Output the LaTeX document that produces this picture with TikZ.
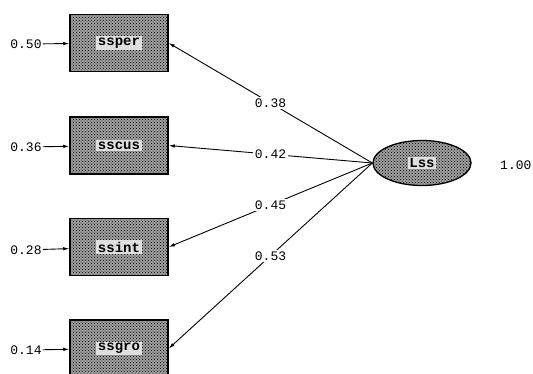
\documentclass[tikz,border=0pt]{standalone}
\usepackage{fontspec}
\setmonofont{Liberation Mono}
\usetikzlibrary{arrows.meta,patterns,shapes.geometric}
\begin{document}
\begin{tikzpicture}[x=1pt,y=-1pt,
  obs/.style={draw=black,line width=1.5pt,rectangle,minimum width=98pt,minimum height=57pt,inner sep=0pt,
     fill=gray!75,postaction={pattern=crosshatch dots,pattern color=black}},
  lat/.style={draw=black,line width=1.3pt,ellipse,minimum width=98pt,minimum height=45pt,inner sep=0pt,
     fill=gray!75,postaction={pattern=crosshatch dots,pattern color=black}},
  inlab/.style={font=\ttfamily\bfseries\fontsize{14}{14}\selectfont,fill=white!75!gray,inner sep=1.5pt},
  num/.style={font=\ttfamily\fontsize{13}{13}\selectfont,inner sep=1pt},
  coef/.style={font=\ttfamily\fontsize{13}{13}\selectfont,fill=white,inner sep=1.5pt},
  arr/.style={line width=0.9pt,-{Latex[length=6pt,width=3.5pt]}}]
\useasboundingbox (0,0) rectangle (533,373);
\begin{scope}
\clip (0,0) rectangle (533,373);
\node[obs] (b1) at (119,43) {};
\node[inlab] at (b1) {ssper};
\node[obs] (b2) at (119,145.5) {};
\node[inlab] at (b2) {sscus};
\node[obs] (b3) at (119,247) {};
\node[inlab] at (b3) {ssint};
\node[obs] (b4) at (119,348.5) {};
\node[inlab] at (b4) {ssgro};
\node[lat] (lss) at (422,163) {};
\node[inlab] at (lss) {Lss};
\node[num,anchor=west] (v) at (499,165) {1.00};

\node[num] (e1) at (26,44) {0.50};
\node[num] (e2) at (26,147) {0.36};
\node[num] (e3) at (26,250) {0.28};
\node[num] (e4) at (26,350) {0.14};
\draw[arr] (e1) -- (b1);
\draw[arr] (e2) -- (b2);
\draw[arr] (e3) -- (b3);
\draw[arr] (e4) -- (b4);

\draw[arr] (lss.west) -- (b1.east) node[coef,pos=0.5] {0.38};
\draw[arr] (lss.west) -- (b2.east) node[coef,pos=0.5] {0.42};
\draw[arr] (lss.west) -- (b3.east) node[coef,pos=0.5] {0.45};
\draw[arr] (lss.west) -- (b4.east) node[coef,pos=0.5] {0.53};
\end{scope}
\end{tikzpicture}
\end{document}
